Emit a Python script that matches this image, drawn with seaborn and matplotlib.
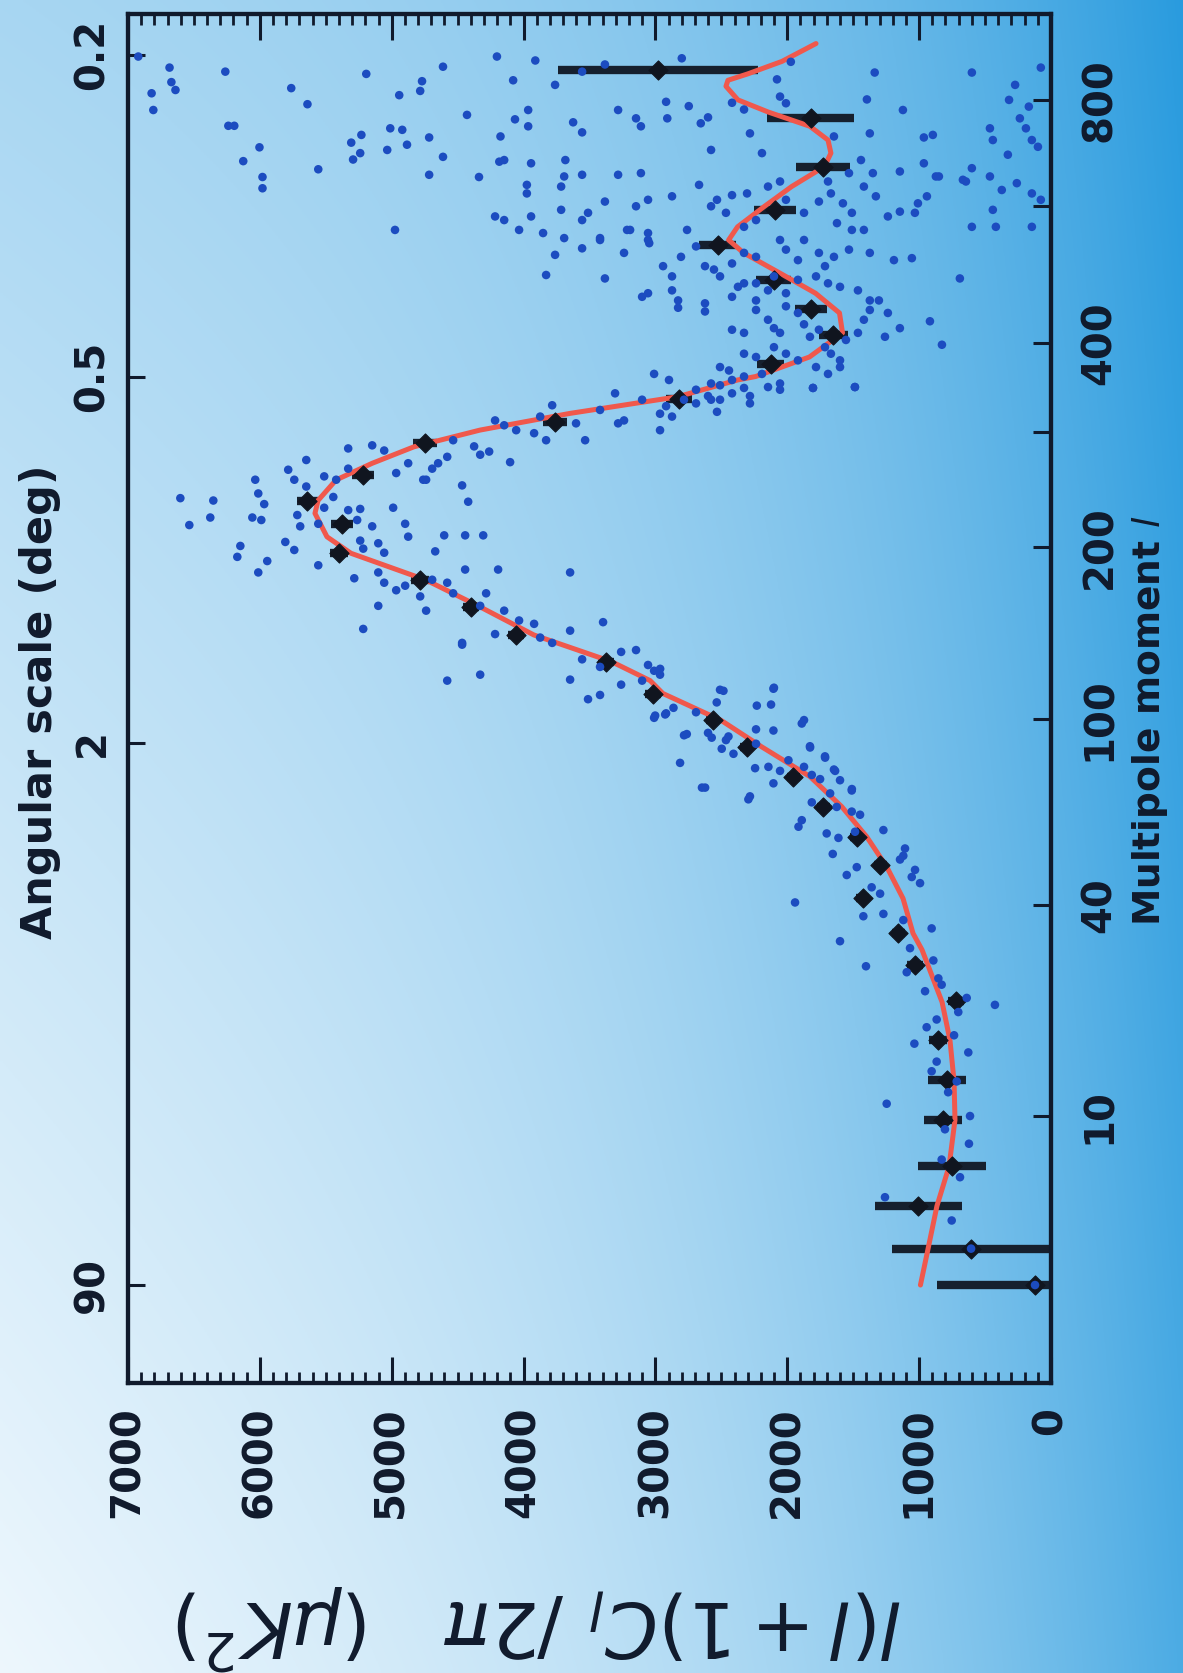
import numpy as np
import pandas as pd
import matplotlib
matplotlib.use('Agg')
import matplotlib.pyplot as plt
from matplotlib.ticker import MultipleLocator, NullLocator
import seaborn as sns

# puntos promediados por bandas (diamantes negros) con su error
bin_l = [2, 3, 4.6, 6.6, 9.7, 13.1, 17.4, 22.6, 28.2, 34, 41.4, 49.6, 57.3, 66.6, 76.9, 88.3,
         99.5, 111.7, 127.7, 142.5, 159.4, 176.8, 195.6, 218, 237, 259, 289, 310.6, 335, 375,
         410, 444, 485, 537, 594, 670, 763, 866]
bin_p = [121, 606, 1008, 750, 819, 789, 857, 720, 1031, 1158, 1428, 1296, 1473, 1726, 1955, 2309,
         2566, 3020, 3377, 4058, 4400, 4786, 5400, 5377, 5640, 5218, 4749, 3764, 2822, 2127,
         1650, 1822, 2104, 2527, 2095, 1732, 1822, 2981]
bin_err = [744, 600, 330, 260, 145, 145, 70, 60, 60, 50, 50, 50, 50, 50, 50, 50,
           50, 60, 60, 60, 60, 70, 70, 80, 80, 80, 90, 90, 100, 100,
           110, 120, 130, 140, 160, 205, 330, 760]

# curva del modelo (roja)
curve_l = [2, 3, 4.6, 6.6, 9.7, 13, 17.4, 22.4, 30.9, 34, 41.4, 49.1, 57.3, 66.6, 76.9, 88.3,
           99.5, 111.7, 118, 127.7, 142.5, 159.4, 176.8, 195.6, 207.9, 226.4, 237, 254.8, 269.9,
           285.6, 302.1, 319.3, 337.2, 356, 360, 383, 413, 439, 466, 495, 525, 545, 566, 600,
           634, 670, 695, 720, 747, 776, 801, 830, 843, 857, 885, 926]
curve_p = [990, 932, 865, 773, 728, 735, 766, 826, 978, 1046, 1122, 1246, 1397, 1587, 1827, 2195,
           2505, 2943, 3040, 3331, 3922, 4331, 4740, 5309, 5491, 5582, 5559, 5422, 5149,
           4831, 4331, 3650, 2832, 2377, 2240, 1832, 1581, 1604, 1786, 2058, 2331, 2445, 2377, 2172,
           1967, 1718, 1669, 1691, 1828, 2146, 2374, 2465, 2450, 2300, 2040, 1782]

# puntos individuales (l, potencia) leidos por regiones
dots_low = [(2, 121), (3, 606), (4, 753), (5, 1259), (6, 690), (7, 829), (8, 622), (9, 804),
            (10, 614), (11, 1246), (12, 780), (13, 715), (14, 905), (15, 867), (16, 627),
            (17, 1036), (18, 735), (19, 943), (20, 867), (21, 703), (22, 425), (23, 639),
            (24, 955), (25, 829), (26, 854), (27, 1094), (28, 1403), (29, 892)]

dots_rise = [(124, 2964), (101.5, 3002), (102, 2926), (105, 2863), (93.5, 2762), (82, 2813),
             (73, 2623), (113, 2484), (107.5, 2535), (92, 2573), (87.5, 2497), (92.5, 2446),
             (85.5, 2408), (69, 2295), (106, 2231), (80, 2244), (80.5, 2143), (114, 2105),
             (95, 2105), (74.5, 2105), (83, 1991), (98, 1890), (88, 1827), (77.5, 1814),
             (76, 1751), (84, 1713), (79, 1637), (71, 1675), (60.3, 1915), (40.5, 1941),
             (62.3, 1890), (68, 1814), (58.3, 1701), (57, 1612), (52.5, 1655), (66.5, 1625),
             (72, 1511), (65, 1511), (64, 1448), (58.8, 1486), (59.3, 1271), (54, 1107),
             (52, 1120), (51, 1145), (48.3, 1031), (45, 993), (46.5, 1056), (47, 1549),
             (49, 1473), (44, 1360), (42.5, 1296), (38, 1271), (37.5, 1423), (32.5, 1600),
             (36.7, 1120), (35, 905), (31.2, 1069),
             (160, 4329), (157, 4147), (143, 4216), (151, 4034), (149, 3920), (141, 3874),
             (138, 3783), (145, 3647), (129, 3556), (125, 3420), (150, 3397), (133, 3260),
             (134, 3147), (126, 3056), (123, 3010), (121, 2965), (118, 3101), (109, 3511),
             (118.5, 3647), (111, 3420), (116, 3260), (100.5, 3010), (102.5, 2919), (93, 2783),
             (103, 2692), (113.5, 2510), (94, 2601), (91, 2465), (89.5, 2237), (106.5, 2123),
             (114.5, 2101), (95.5, 2237), (99.5, 1873), (88.5, 1828), (84.5, 1714), (79.5, 1646),
             (75.6, 1600), (72.5, 1510), (80.5, 1873), (79, 2055), (70, 2283), (73, 2647),
             (118, 4579), (121, 4329), (137, 4466)]

dots_peak = [(350, 2510), (356, 2419), (347, 2328), (338, 2283), (348, 2146), (345, 2055),
             (347, 1805), (348, 1487), (334, 2578), (321, 2533), (330, 2692), (334, 2783),
             (327, 2919), (319, 2965), (302, 2965), (316, 2874), (334, 3101), (312, 3238),
             (341, 3306), (309, 3283), (323, 3420), (292, 3533), (309, 3602), (328, 3783),
             (316, 3874), (292, 3829), (299, 3920), (302, 4056), (307, 4147), (271, 4102),
             (312, 4216), (281, 4261), (278, 4329), (286, 4375), (292, 4534), (276, 4579),
             (270, 4648), (265, 4693), (255, 4761), (270, 4875), (261, 4966), (282, 5057),
             (287, 5148), (284, 5330), (265, 5330), (255, 5421), (258, 5512), (273, 5648),
             (264, 5785), (255, 5739), (249, 5648),
             (239, 6603), (237, 6353), (217, 6535), (223, 6376), (255, 6035), (243, 6012),
             (234, 5967), (223, 6057), (221, 5989), (201, 6148), (193, 6171), (182, 6012),
             (190, 5944), (204, 5807), (198, 5739), (225, 5716), (216, 5694), (218, 5557),
             (231, 5512), (240, 5443), (187, 5557), (229, 5330), (230, 5239), (221, 5262),
             (205, 5239), (199, 5216), (216, 5148), (203, 5102), (196, 5057), (231, 4989),
             (218, 4898), (208, 4875), (255, 4739), (197, 4670), (250, 4466), (236, 4420),
             (209, 4602), (209, 4443), (209, 4306), (184, 4443), (184, 4193), (182, 3647),
             (178, 5284), (182, 5102), (175, 5057), (170, 4966), (173, 4898), (166, 4784),
             (157, 4739), (177, 4693), (175, 4579), (168, 4534), (160, 5102), (146, 5216),
             (138, 4466), (168, 4284)]

dots_high = [(896, 6922), (871, 6685), (815, 6821), (839, 6671), (822, 6640), (780, 6808),
             (862, 6262), (826, 5762), (792, 5639), (857, 5193), (811, 4943), (841, 4770),
             (820, 4784), (873, 4611), (896, 4202), (843, 4079), (887, 3911), (833, 3761),
             (862, 3556), (878, 3383), (892, 2800), (884, 1973), (845, 2078), (860, 1337),
             (802, 1396), (860, 600), (833, 272), (871, 77), (801, 318), (787, 168),
             (748, 6239), (748, 6194), (706, 6003), (680, 6126), (665, 5557), (715, 5307),
             (730, 5230), (683, 5293), (695, 5239), (743, 5011), (740, 4920), (701, 5034),
             (711, 4884), (725, 4716), (688, 4611), (770, 4429), (727, 4175), (682, 4147),
             (761, 4065), (780, 3965), (747, 3965), (676, 3943), (682, 3683), (755, 3624),
             (735, 3556), (780, 3283), (763, 3147), (747, 3110), (797, 2919), (763, 2910),
             (788, 2747), (765, 2601), (753, 2656), (701, 2578), (795, 2419), (781, 2328),
             (733, 2283), (695, 2192), (808, 2055), (794, 2010), (727, 1646), (682, 1441),
             (733, 1374), (780, 1123), (725, 964), (730, 896), (743, 463), (720, 441),
             (763, 236), (743, 190), (720, 145), (707, 99), (692, 327), (676, 964),
             (661, 1146), (667, 600), (646, 668), (652, 850), (658, 1351), (658, 1532),
             (643, 1691),
             (651, 5980), (631, 5980), (655, 4716), (651, 4338), (679, 4184), (637, 3975),
             (622, 3975), (652, 3692), (655, 3556), (634, 3715), (655, 3283), (658, 3110),
             (617, 2874), (637, 2669), (611, 3056), (600, 3147), (608, 3383), (589, 3511),
             (577, 3556), (594, 3715), (583, 3943), (561, 4034), (583, 4216), (577, 4147),
             (556, 3852), (548, 3692), (548, 3420), (561, 3192), (556, 3056), (540, 3047),
             (525, 3238), (600, 2578), (611, 2533), (619, 2419), (622, 2305), (589, 2465),
             (566, 2328), (577, 2237), (634, 2146), (643, 2055), (611, 2010), (589, 1873),
             (608, 1760), (622, 1669), (605, 1578), (589, 1510), (634, 1419), (617, 1328),
             (583, 1237), (591, 1146), (589, 1032), (605, 1009), (617, 941), (652, 873),
             (643, 645), (652, 463), (628, 373), (594, 441), (640, 259), (622, 145),
             (611, 77), (566, 418), (566, 600), (566, 145), (561, 1419), (572, 1623),
             (561, 1510), (561, 4975),
             (492, 3829), (522, 3761), (532, 3556), (545, 3420), (487, 3383), (561, 3215),
             (545, 3056), (505, 2942), (490, 2874), (519, 2806), (561, 2760), (535, 2692),
             (505, 2624), (500, 2556), (490, 2510), (509, 2419), (525, 2328), (519, 2237),
             (545, 2055), (530, 2010), (514, 1919), (545, 1873), (525, 1760), (505, 1714),
             (519, 1646), (530, 1532), (525, 1374), (514, 1191), (517, 1055), (487, 691),
             (490, 1782), (480, 1691), (475, 1600), (470, 1464), (456, 1374), (480, 2237),
             (480, 2328), (475, 2374), (470, 2146), (466, 2010), (470, 2874), (466, 3056),
             (461, 3101), (456, 2828), (452, 2624), (461, 2419), (456, 2237), (490, 2101),
             (485, 1919),
             (446, 2828), (441, 2624), (417, 2419), (413, 2328), (443, 2237), (430, 2146),
             (419, 2101), (413, 2055), (448, 2010), (439, 1919), (424, 1873), (408, 1828),
             (417, 1760), (395, 1714), (387, 1669), (379, 1600), (404, 1555), (413, 1464),
             (430, 1419), (443, 1374), (456, 1305), (439, 1237), (408, 1259), (419, 1146),
             (428, 918), (398, 827), (387, 2328), (383, 2237), (395, 2101), (387, 2010),
             (379, 1919), (371, 1782), (363, 1691), (371, 1600), (348, 1487), (347, 1805),
             (352, 2055), (363, 2192), (360, 2328), (367, 2442), (352, 2578), (345, 2692),
             (363, 3010), (356, 2897), (338, 2601), (334, 2510), (341, 2419), (330, 2283),
             (371, 2510)]

power_ticks = [0, 1000, 2000, 3000, 4000, 5000, 6000, 7000]
angle_ticks = [0.2, 0.5, 2, 90]
angle_labels = ['0.2', '0.5', '2', '90']
l_ticks = [10, 40, 100, 200, 300, 400, 600, 800]
l_labels = ['10', '40', '100', '200', '', '400', '', '800']

dots = pd.DataFrame(dots_low + dots_rise + dots_peak + dots_high, columns=['l', 'power'])
bins = pd.DataFrame({'l': bin_l, 'power': bin_p, 'err': bin_err})
curve = pd.DataFrame({'l': curve_l, 'power': curve_p})

sns.set_style('ticks')
plt.rcParams['font.family'] = ['DejaVu Sans']
plt.rcParams['mathtext.fontset'] = 'dejavusans'

ink = '#101a2c'


def fwd(v):
    return np.sign(v) * np.abs(v) ** 0.25


def inv(v):
    return np.sign(v) * np.abs(v) ** 4


fig = plt.figure(figsize=(11.83, 16.73), dpi=100)

# fondo degradado azul
bg = fig.add_axes([0, 0, 1, 1], zorder=-10)
uu, vv = np.meshgrid(np.linspace(0, 1, 400), np.linspace(0, 1, 560))
w = np.clip(0.03 + 0.32 * uu + 0.32 * (1 - vv) * (1 - 0.5 * uu) + 0.42 * uu ** 3, 0, 1)
light = np.array([244, 250, 254]) / 255
dark = np.array([26, 148, 220]) / 255
bg.imshow(light + (dark - light) * w[..., None], aspect='auto', extent=[0, 1, 0, 1])
bg.axis('off')

ax = fig.add_axes([0.1082, 0.1733, 0.7802, 0.8183])
ax.patch.set_alpha(0)
ax.set_yscale('function', functions=(fwd, inv))

ax.errorbar(bins['power'], bins['l'], xerr=bins['err'], fmt='none', ecolor='#16202e',
            elinewidth=6, capsize=0, zorder=3)
sns.lineplot(data=curve, x='power', y='l', sort=False, estimator=None, color='#f0584c',
             lw=3.6, zorder=3.5, ax=ax)
sns.scatterplot(data=bins, x='power', y='l', marker='D', s=95, color='#10151f',
                edgecolor='#10151f', linewidth=0.8, zorder=4, ax=ax)
sns.scatterplot(data=dots, x='power', y='l', s=38, color='#1c4cc0', edgecolor='none',
                linewidth=0, zorder=5, ax=ax)

ax.set_xlim(7000, 0)
ax.set_ylim(0.516, 997)

# eje de potencia (abajo y arriba)
ax.set_xticks(power_ticks, labels=[str(t) for t in power_ticks])
ax.xaxis.set_minor_locator(MultipleLocator(100))
ax.tick_params(axis='x', which='major', direction='in', length=19, width=2.2, top=True,
               bottom=True, labelsize=29, labelrotation=90, pad=17, color=ink, labelcolor=ink)
ax.tick_params(axis='x', which='minor', direction='in', length=8, width=2, top=True,
               bottom=True, color=ink)

# escala angular a la izquierda
ax.set_yticks([180 / a for a in angle_ticks], labels=angle_labels)
ax.yaxis.set_minor_locator(NullLocator())
ax.tick_params(axis='y', direction='in', length=12, width=2.2, labelsize=29,
               labelrotation=90, pad=11, color=ink, labelcolor=ink)
for t in ax.get_yticklabels():
    t.set_va('center')

# multipolo a la derecha
ax2 = ax.twinx()
ax2.set_yscale('function', functions=(fwd, inv))
ax2.set_ylim(0.516, 997)
ax2.set_yticks(l_ticks, labels=l_labels)
ax2.yaxis.set_minor_locator(NullLocator())
ax2.tick_params(axis='y', direction='in', length=13, width=2.2, labelsize=29,
                labelrotation=90, pad=21, color=ink, labelcolor=ink)
for t in ax2.get_yticklabels():
    t.set_va('center')

for t in ax.get_xticklabels() + ax.get_yticklabels() + ax2.get_yticklabels():
    t.set_fontweight('bold')

for a in (ax, ax2):
    for s in a.spines.values():
        s.set_linewidth(3)
        s.set_color(ink)

ax.set_xlabel(r'$l(l+1)C_l\ /2\pi\ \ \ (\mu K^2)$', fontsize=55, rotation=180, color=ink)
ax.xaxis.set_label_coords(0.446, -0.178)
ax.xaxis.label.set_va('center')

ax.set_ylabel('Angular scale (deg)', fontsize=31, fontweight='bold', color=ink)
ax.yaxis.set_label_coords(-0.095, 0.498)
ax.yaxis.label.set_va('center')

ax2.set_ylabel(r'Multipole moment $l$', fontsize=27, fontweight='bold', rotation=90, color=ink)
ax2.yaxis.set_label_coords(1.107, 0.484)
ax2.yaxis.label.set_va('center')

fig.savefig('out.png', dpi=100)
